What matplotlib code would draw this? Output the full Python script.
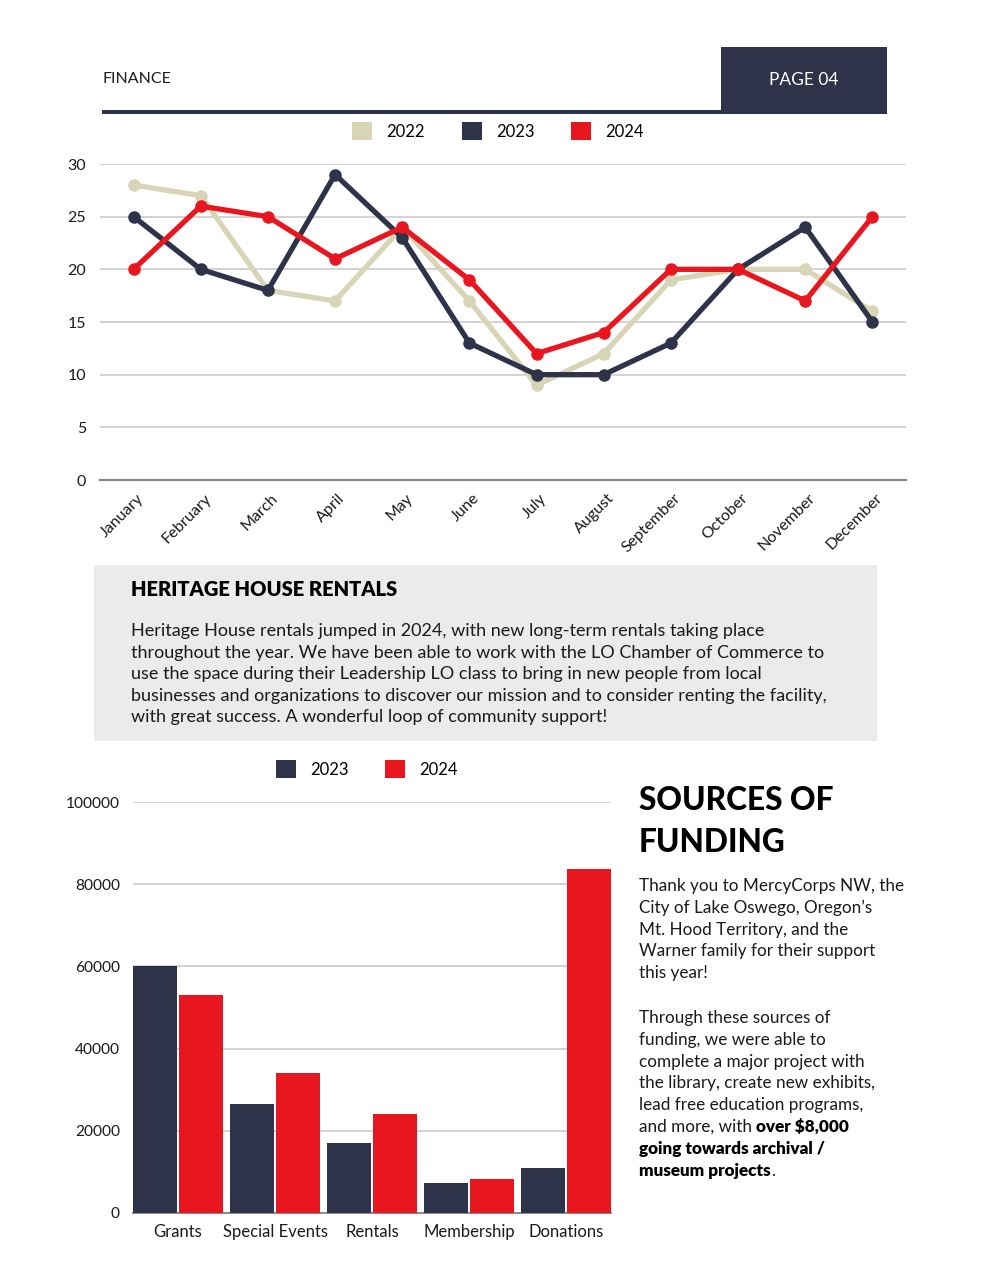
import matplotlib
matplotlib.use("Agg")
import matplotlib.pyplot as plt
import matplotlib.transforms as mtrans
from matplotlib.patches import Rectangle, Patch
import numpy as np

# ---------------- data ----------------
months = ["January", "February", "March", "April", "May", "June", "July",
          "August", "September", "October", "November", "December"]
rent_2022 = [28, 27, 18, 17, 24, 17, 9, 12, 19, 20, 20, 16]
rent_2023 = [25, 20, 18, 29, 23, 13, 10, 10, 13, 20, 24, 15]
rent_2024 = [20, 26, 25, 21, 24, 19, 12, 14, 20, 20, 17, 25]
line_yticks = [0, 5, 10, 15, 20, 25, 30]

sources = ["Grants", "Special Events", "Rentals", "Membership", "Donations"]
fund_2023 = [60000, 26500, 17000, 7300, 11000]
fund_2024 = [53000, 34000, 24000, 8200, 83600]
bar_yticks = [0, 20000, 40000, 60000, 80000, 100000]

# ---------------- style ----------------
NAVY = "#2e3349"
RED = "#e8171f"
BEIGE = "#d8d4b6"
GRID = "#d3d3d3"
TXT = "#1a1a1a"
FONT = "Lato"
plt.rcParams["font.family"] = [FONT, "DejaVu Sans"]

W, H = 988, 1280
fig = plt.figure(figsize=(W / 100, H / 100), dpi=100)
fig.patch.set_facecolor("white")


def fx(px):
    return px / W


def fy(py):
    return 1 - py / H


# ---------------- header ----------------
fig.text(fx(102), fy(79), "FINANCE", fontsize=11.5, color=TXT, va="center", ha="left")
fig.patches.append(Rectangle((fx(721), fy(113)), fx(887) - fx(721), fy(47) - fy(113),
                             transform=fig.transFigure, facecolor=NAVY, edgecolor="none"))
fig.text(fx(804), fy(80), "PAGE 04", fontsize=12.5, color="white", va="center", ha="center")
fig.patches.append(Rectangle((fx(102), fy(114)), fx(887) - fx(102), 4 / H,
                             transform=fig.transFigure, facecolor=NAVY, edgecolor="none"))

# ---------------- line chart ----------------
ax1 = fig.add_axes([fx(100), fy(480), fx(906) - fx(100), fy(164) - fy(480)])
x = np.arange(len(months))
for vals, col, lab, z in [(rent_2022, BEIGE, "2022", 3), (rent_2023, NAVY, "2023", 4),
                          (rent_2024, RED, "2024", 5)]:
    ax1.plot(x, vals, color=col, lw=3.8, marker="o", ms=8, label=lab, zorder=z,
             solid_joinstyle="round")
ax1.set_xlim(-0.5, len(months) - 0.5)
ax1.set_ylim(0, 30)
ax1.set_yticks(line_yticks)
ax1.set_yticklabels([str(v) for v in line_yticks])
ax1.yaxis.grid(True, color=GRID, lw=1.4)
ax1.set_axisbelow(True)
for s in ["top", "right", "left"]:
    ax1.spines[s].set_visible(False)
ax1.spines["bottom"].set_color("#8a8a8a")
ax1.spines["bottom"].set_linewidth(1.6)
ax1.tick_params(axis="both", length=0, labelsize=11.5, colors=TXT)
ax1.tick_params(axis="y", pad=10)
ax1.set_xticks(x)
ax1.set_xticklabels(months, rotation=45, ha="right", va="top", rotation_mode="anchor")
ax1.tick_params(axis="x", pad=8)
off = mtrans.ScaledTranslation(3 / 100, 0, fig.dpi_scale_trans)
for lbl in ax1.get_xticklabels():
    lbl.set_transform(lbl.get_transform() + off)

h1 = [Patch(facecolor=BEIGE, edgecolor="none"), Patch(facecolor=NAVY, edgecolor="none"),
      Patch(facecolor=RED, edgecolor="none")]
fig.legend(h1, ["2022", "2023", "2024"], loc="center", bbox_to_anchor=(fx(498), fy(131)),
           ncol=3, frameon=False, fontsize=12, handlelength=1.2, handleheight=1.2,
           handletextpad=0.85, columnspacing=2.2, borderaxespad=0, borderpad=0)

# ---------------- grey text box ----------------
fig.patches.append(Rectangle((fx(94), fy(741)), fx(877) - fx(94), fy(565) - fy(741),
                             transform=fig.transFigure, facecolor="#ebebeb", edgecolor="none"))
fig.text(fx(131), fy(590), "HERITAGE HOUSE RENTALS", fontsize=14.5, fontweight="heavy",
         color="black", va="center", ha="left")
body = ["Heritage House rentals jumped in 2024, with new long-term rentals taking place",
        "throughout the year. We have been able to work with the LO Chamber of Commerce to",
        "use the space during their Leadership LO class to bring in new people from local",
        "businesses and organizations to discover our mission and to consider renting the facility,",
        "with great success. A wonderful loop of community support!"]
for i, line in enumerate(body):
    fig.text(fx(131), fy(631 + i * 21.6), line, fontsize=13, color=TXT, va="center", ha="left")

# ---------------- bar chart ----------------
ax2 = fig.add_axes([fx(133), fy(1213), fx(611) - fx(133), fy(802) - fy(1213)])
xb = np.arange(len(sources))
bw = 0.455
ax2.bar(xb - bw / 2 - 0.01, fund_2023, width=bw, color=NAVY, zorder=3, label="2023")
ax2.bar(xb + bw / 2 + 0.01, fund_2024, width=bw, color=RED, zorder=3, label="2024")
ax2.set_xlim(-0.464, len(sources) - 1 + 0.464)
ax2.set_ylim(0, 100000)
ax2.set_yticks(bar_yticks)
ax2.set_yticklabels([str(v) for v in bar_yticks])
ax2.yaxis.grid(True, color=GRID, lw=1.4)
ax2.set_axisbelow(True)
for s in ["top", "right", "left"]:
    ax2.spines[s].set_visible(False)
ax2.spines["bottom"].set_color("#8a8a8a")
ax2.spines["bottom"].set_linewidth(1.4)
ax2.set_xticks(xb)
ax2.set_xticklabels(sources)
ax2.tick_params(axis="both", length=0, colors=TXT)
ax2.tick_params(axis="x", labelsize=12, pad=8)
ax2.tick_params(axis="y", labelsize=11.2, pad=9.5)

h2 = [Patch(facecolor=NAVY, edgecolor="none"), Patch(facecolor=RED, edgecolor="none")]
fig.legend(h2, ["2023", "2024"], loc="center", bbox_to_anchor=(fx(367), fy(769)),
           ncol=2, frameon=False, fontsize=12, handlelength=1.2, handleheight=1.2,
           handletextpad=0.85, columnspacing=2.2, borderaxespad=0, borderpad=0)

# ---------------- right text column ----------------
fig.text(fx(639), fy(801), "SOURCES OF", fontsize=22.8, fontweight="black", color="black",
         va="center", ha="left")
fig.text(fx(639), fy(843), "FUNDING", fontsize=22.8, fontweight="black", color="black",
         va="center", ha="left")
BS = 12.3
LS = 21.8
para1 = ["Thank you to MercyCorps NW, the", "City of Lake Oswego, Oregon\u2019s",
         "Mt. Hood Territory, and the", "Warner family for their support", "this year!"]
for i, line in enumerate(para1):
    fig.text(fx(639), fy(886 + i * LS), line, fontsize=BS, color=TXT, va="center", ha="left")
para2 = ["Through these sources of", "funding, we were able to",
         "complete a major project with", "the library, create new exhibits,",
         "lead free education programs,"]
y0 = 1018
for i, line in enumerate(para2):
    fig.text(fx(639), fy(y0 + i * LS), line, fontsize=BS, color=TXT, va="center", ha="left")
yl = y0 + 5 * LS
t_norm = fig.text(fx(639), fy(yl), "and more, with", fontsize=BS, color=TXT,
                  va="center", ha="left")
fig.canvas.draw()
ext = t_norm.get_window_extent()
fig.text(ext.x1 / W + 4 / W, fy(yl), "over $8,000", fontsize=BS, fontweight="heavy",
         color="black", va="center", ha="left")
fig.text(fx(639), fy(yl + LS), "going towards archival /", fontsize=BS, fontweight="heavy",
         color="black", va="center", ha="left")
t_b = fig.text(fx(639), fy(yl + 2 * LS), "museum projects", fontsize=BS, fontweight="heavy",
               color="black", va="center", ha="left")
fig.canvas.draw()
ext2 = t_b.get_window_extent()
fig.text(ext2.x1 / W, fy(yl + 2 * LS), ".", fontsize=BS, color=TXT, va="center", ha="left")

fig.savefig("out.png", dpi=100, facecolor="white")
